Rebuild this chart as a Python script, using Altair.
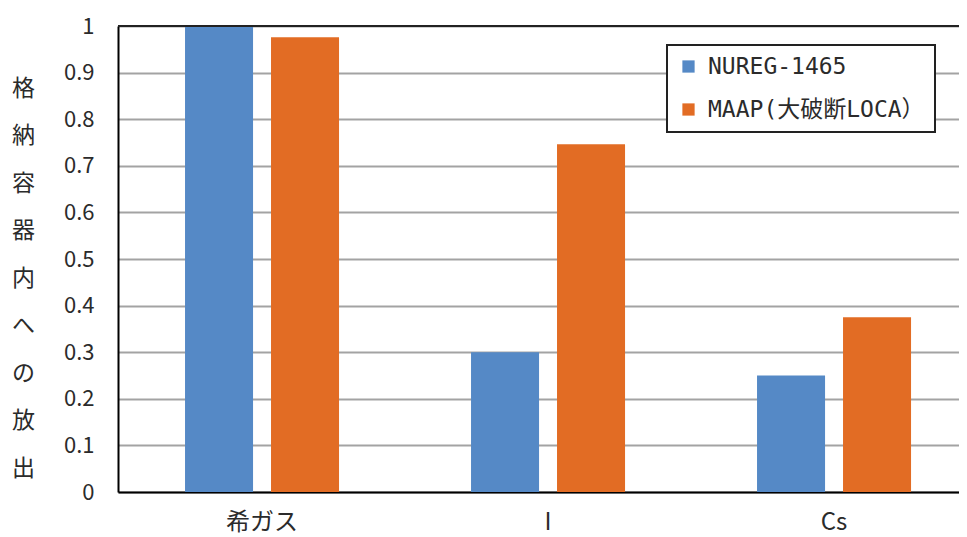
import altair as alt
import pandas as pd

categories = ["希ガス", "I", "Cs"]
series = ["NUREG-1465", "MAAP(大破断LOCA）"]
nureg_values = [1.0, 0.30, 0.25]
maap_values = [0.976, 0.746, 0.375]
colors = ["#5589C6", "#E26C24"]
y_ticks = [0, 0.1, 0.2, 0.3, 0.4, 0.5, 0.6, 0.7, 0.8, 0.9, 1.0]
y_title = list("格納容器内への放出")

rows = []
for c, a, b in zip(categories, nureg_values, maap_values):
    rows.append({"cat": c, "series": series[0], "value": a})
    rows.append({"cat": c, "series": series[1], "value": b})
df = pd.DataFrame(rows)

FONT = "Noto Sans CJK JP"
LEGEND_FONT = "DejaVu Sans Mono, Noto Sans CJK JP"
TEXT = "#2b2b2b"

bars = alt.Chart(df).mark_bar().encode(
    x=alt.X("cat:N", sort=categories,
            scale=alt.Scale(range=[0, 849], paddingInner=0.4615, paddingOuter=0.215, align=0.545),
            axis=alt.Axis(title=None, labelAngle=0, domainColor="black", domainWidth=2,
                          ticks=False, labelFontSize=24, labelPadding=18, grid=False,
                          labelColor=TEXT, labelFont=FONT)),
    xOffset=alt.XOffset("series:N", sort=series,
                        scale=alt.Scale(paddingInner=0.209, paddingOuter=0)),
    y=alt.Y("value:Q", scale=alt.Scale(domain=[0, 1], nice=False),
            axis=alt.Axis(values=y_ticks, format=".1~f", title=y_title,
                          titleAngle=0, titleX=-95, titleY=51, titleBaseline="top",
                          titleAlign="center", titleLineHeight=47.5, titleFontSize=23,
                          titleFontWeight="normal", titleColor=TEXT, titleFont=FONT,
                          labelFontSize=22, labelPadding=24, labelColor=TEXT,
                          labelFont=FONT, ticks=False, domainColor="black", domainWidth=2,
                          grid=True, gridColor="#a3a3a3", gridWidth=2)),
    color=alt.Color("series:N", sort=series,
                    scale=alt.Scale(domain=series, range=colors),
                    legend=alt.Legend(title=None, orient="none", legendX=549, legendY=19,
                                      strokeColor="#222222", fillColor="white",
                                      padding=10, symbolType="square", symbolSize=150,
                                      symbolStrokeWidth=0, labelFontSize=23, rowPadding=19,
                                      labelOffset=8, labelLimit=400, labelFont=LEGEND_FONT,
                                      labelColor=TEXT)),
)

top_rule = alt.Chart(pd.DataFrame({"y": [1.0]})).mark_rule(color="#222222", strokeWidth=2).encode(
    y=alt.datum(1.0)
)

chart = alt.layer(bars, top_rule).properties(
    width=841, height=466,
    autosize=alt.AutoSizeParams(type="none"),
    padding={"left": 110, "top": 18, "right": 0, "bottom": 43},
).configure_view(stroke=None).configure_legend(strokeWidth=2)

chart.save("out.html", embed_options={"renderer": "svg", "actions": False})
